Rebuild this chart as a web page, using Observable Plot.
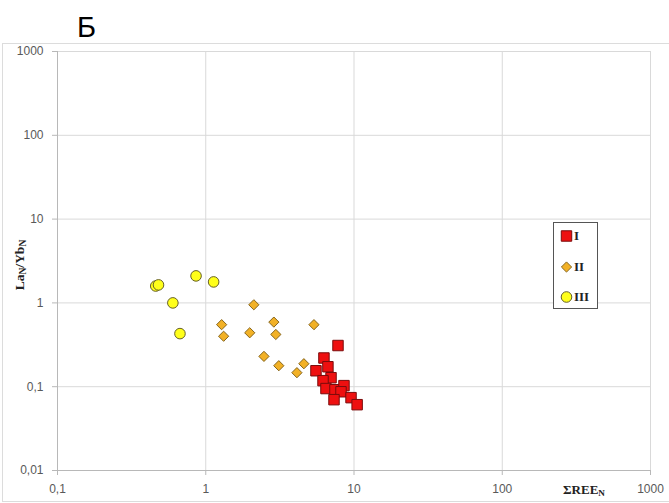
<!DOCTYPE html>
<html>
<head>
<meta charset="utf-8">
<script src="https://cdn.jsdelivr.net/npm/d3@7"></script>
<script src="https://cdn.jsdelivr.net/npm/@observablehq/plot@0.6"></script>
<style>
  html, body { margin: 0; padding: 0; background: #fff; }
  #wrap { position: relative; width: 669px; height: 503px; overflow: hidden; font-family: "Liberation Sans", Arial, sans-serif; }
  #title { position: absolute; left: 77px; top: 13px; font-size: 29px; color: #000; line-height: 1; }
  #frame { position: absolute; left: 2px; top: 43px; width: 680px; height: 457px; border: 1px solid #dcdcdc; }
  #chart { position: absolute; left: 0; top: 43px; }
  .lbl { position: absolute; font-family: "Liberation Serif", "Times New Roman", serif; font-weight: bold; color: #222; white-space: nowrap; }
  .lbl sub { font-size: 70%; vertical-align: -0.25em; line-height: 0; }
  #ylab { left: 20px; top: 265px; font-size: 13.5px; transform: translate(-50%, -50%) rotate(-90deg); }
  #xlab { left: 584px; top: 490px; font-size: 13px; transform: translate(-50%, -50%); }
  #legend { position: absolute; left: 553px; top: 222px; width: 43px; height: 85px; border: 1px solid #555; background: #fff; }
  .item { position: absolute; left: 6px; height: 14px; display: flex; align-items: center; }
  .item svg { margin-right: 1px; }
  .item span { font-family: "Liberation Serif", "Times New Roman", serif; font-weight: bold; font-size: 13px; color: #222; }
</style>
</head>
<body>
<div id="wrap">
  <div id="title">Б</div>
  <div id="frame"></div>
  <div id="chart"></div>
  <div id="ylab" class="lbl">La<sub>N</sub>/Yb<sub>N</sub></div>
  <div id="xlab" class="lbl">ΣREE<sub>N</sub></div>
  <div id="legend"></div>
</div>
<script>
// ---- data ----
const seriesNames = ["I", "II", "III"];

const groupI_x = [7.8, 6.27, 5.54, 6.67, 7.0, 6.18, 6.47, 7.44, 8.56, 8.17, 7.33, 9.55, 10.5];
const groupI_y = [0.31, 0.22, 0.155, 0.173, 0.128, 0.118, 0.095, 0.092, 0.103, 0.087, 0.07, 0.074, 0.061];

const groupII_x = [2.11, 1.28, 1.32, 1.98, 2.88, 2.97, 5.37, 2.47, 3.11, 4.12, 4.59];
const groupII_y = [0.95, 0.55, 0.40, 0.44, 0.59, 0.42, 0.55, 0.23, 0.178, 0.147, 0.188];

const groupIII_x = [0.46, 0.48, 0.86, 1.13, 0.60, 0.67];
const groupIII_y = [1.59, 1.64, 2.10, 1.78, 1.00, 0.43];

const xTicks = [0.1, 1, 10, 100, 1000];
const yTicks = [0.01, 0.1, 1, 10, 100, 1000];

// ---- build table ----
function rows(xs, ys, s) { return xs.map((x, i) => ({x, y: ys[i], s})); }
const dataI = rows(groupI_x, groupI_y, "I");
const dataII = rows(groupII_x, groupII_y, "II");
const dataIII = rows(groupIII_x, groupIII_y, "III");

const styles = {
  I:   {symbol: "square",   r: 5.9, fill: "#ee1010", stroke: "#7a0c0c"},
  II:  {symbol: "diamond2", r: 4.6, fill: "#f2b126", stroke: "#86651c"},
  III: {symbol: "circle",   r: 5.3, fill: "#ffff1a", stroke: "#66602a"}
};

const fmt = d => String(d).replace(".", ",");
const gridColor = "#d9d9d9";
const axisColor = "#b8b8b8";
const textColor = "#595959";

const chart = Plot.plot({
  width: 669,
  height: 460,
  marginTop: 8,
  marginBottom: 33,
  marginLeft: 57,
  marginRight: 19,
  style: {fontFamily: "'Liberation Sans', Arial, sans-serif", fontSize: "12px", color: textColor, background: "transparent"},
  x: {type: "log", domain: [0.1, 1000]},
  y: {type: "log", domain: [0.01, 1000]},
  marks: [
    Plot.gridX(xTicks, {stroke: gridColor, strokeOpacity: 1}),
    Plot.gridY(yTicks, {stroke: gridColor, strokeOpacity: 1}),
    Plot.ruleX([0.1], {stroke: axisColor, strokeWidth: 1}),
    Plot.ruleY([0.01], {stroke: axisColor, strokeWidth: 1}),
    Plot.axisX(xTicks, {tickFormat: fmt, tickSize: 5, tickPadding: 9, stroke: axisColor, fill: textColor, fontSize: 12, label: null}),
    Plot.axisY(yTicks, {tickFormat: fmt, tickSize: 5, tickPadding: 9, stroke: axisColor, fill: textColor, fontSize: 12, label: null}),
    Plot.dot(dataI, {x: "x", y: "y", symbol: () => styles.I.symbol, r: styles.I.r, fill: styles.I.fill, stroke: styles.I.stroke, strokeWidth: 1}),
    Plot.dot(dataII, {x: "x", y: "y", symbol: () => styles.II.symbol, r: styles.II.r, fill: styles.II.fill, stroke: styles.II.stroke, strokeWidth: 1}),
    Plot.dot(dataIII, {x: "x", y: "y", symbol: () => styles.III.symbol, r: styles.III.r, fill: styles.III.fill, stroke: styles.III.stroke, strokeWidth: 1})
  ]
});
document.getElementById("chart").appendChild(chart);

// ---- legend ----
const legend = document.getElementById("legend");
const symbolPaths = {
  square: d3.symbol(d3.symbolSquare, Math.PI * styles.I.r * styles.I.r)(),
  diamond2: d3.symbol(d3.symbolDiamond2, Math.PI * styles.II.r * styles.II.r)(),
  circle: d3.symbol(d3.symbolCircle, Math.PI * styles.III.r * styles.III.r)()
};
const itemTops = [6, 37, 67];
seriesNames.forEach((name, i) => {
  const st = styles[name];
  const item = document.createElement("div");
  item.className = "item";
  item.style.top = itemTops[i] + "px";
  item.innerHTML = `<svg width="13" height="14" viewBox="-6.5 -7 13 14"><path d="${symbolPaths[st.symbol]}" fill="${st.fill}" stroke="${st.stroke}" stroke-width="1"/></svg><span>${name}</span>`;
  legend.appendChild(item);
});
</script>
</body>
</html>
